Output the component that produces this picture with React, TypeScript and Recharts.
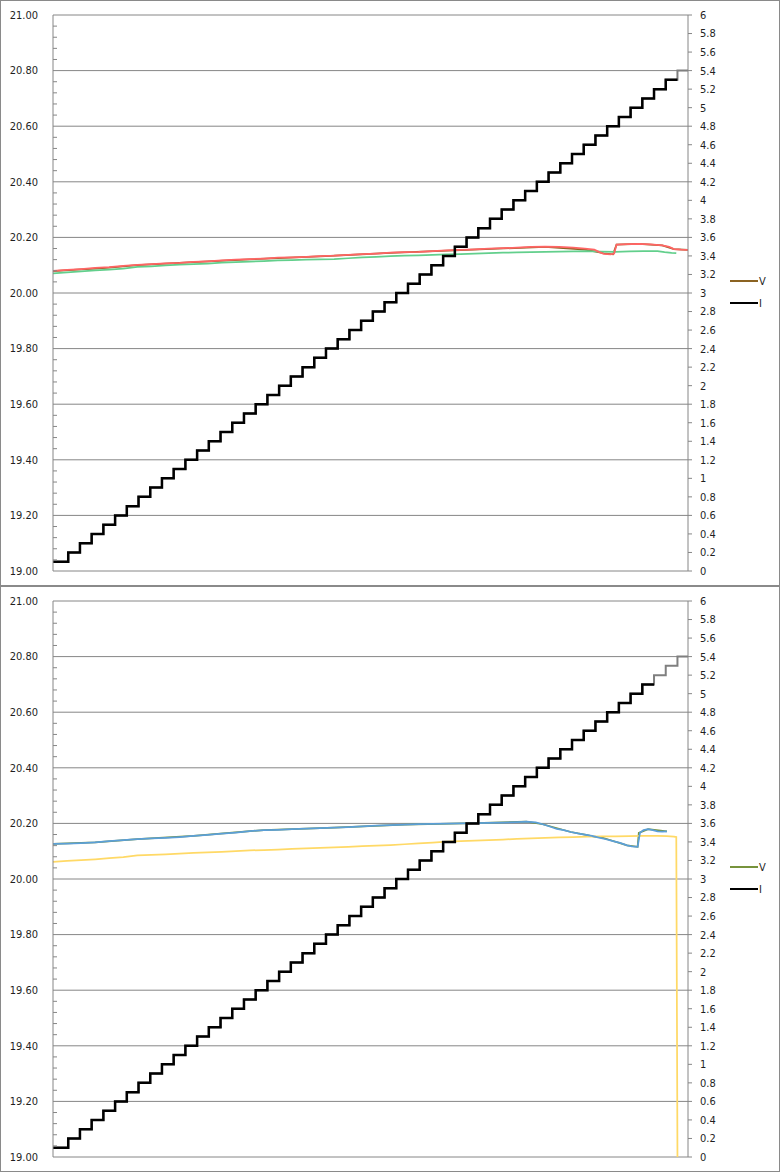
import React from "react";
import { LineChart, Line, XAxis, YAxis, CartesianGrid } from "recharts";

// Left axis (voltage) and right axis (current) ticks
const leftTicks = [19, 19.2, 19.4, 19.6, 19.8, 20, 20.2, 20.4, 20.6, 20.8, 21];
const leftMinorTicks = leftTicks
  .slice(0, -1)
  .flatMap((t) => [0.04, 0.08, 0.12, 0.16].map((d) => Math.round((t + d) * 100) / 100));
const rightTicks = [
  0, 0.2, 0.4, 0.6, 0.8, 1, 1.2, 1.4, 1.6, 1.8, 2, 2.2, 2.4, 2.6, 2.8, 3, 3.2, 3.4, 3.6, 3.8, 4,
  4.2, 4.4, 4.6, 4.8, 5, 5.2, 5.4, 5.6, 5.8, 6,
];

// sample index range of the x axis
const SAMPLE_END = 542;

// current staircase: level and the sample where it starts
const iLevels = [
  0.1, 0.2, 0.3, 0.4, 0.5, 0.6, 0.7, 0.8, 0.9, 1.0, 1.1, 1.2, 1.3, 1.4, 1.5, 1.6, 1.7, 1.8, 1.9,
  2.0, 2.1, 2.2, 2.3, 2.4, 2.5, 2.6, 2.7, 2.8, 2.9, 3.0, 3.1, 3.2, 3.3, 3.4, 3.5, 3.6, 3.7, 3.8,
  3.9, 4.0, 4.1, 4.2, 4.3, 4.4, 4.5, 4.6, 4.7, 4.8, 4.9, 5.0, 5.1, 5.2, 5.3, 5.4,
];
const iStepStart = [
  0, 13, 23, 33, 43, 53, 63, 73, 83, 93, 103, 113, 123, 133, 143, 153, 163, 173, 183, 193, 203,
  213, 223, 233, 243, 253, 263, 273, 283, 293, 303, 313, 323, 333, 343, 353, 363, 373, 383, 393,
  403, 413, 423, 433, 443, 453, 463, 473, 483, 493, 503, 513, 523, 533,
];
const topBlackEnd = 533;
const bottomBlackEnd = 513;

// top chart voltage traces [sample, volts]
const topRed: [number, number][] = [
  [0, 20.08], [12, 20.083], [24, 20.086], [36, 20.09], [48, 20.093], [60, 20.098], [72, 20.101],
  [84, 20.104], [96, 20.107], [108, 20.108], [120, 20.112], [132, 20.114], [144, 20.117],
  [156, 20.12], [168, 20.122], [180, 20.124], [192, 20.127], [204, 20.128], [216, 20.13],
  [228, 20.133], [240, 20.134], [252, 20.137], [264, 20.14], [276, 20.142], [288, 20.145],
  [300, 20.147], [312, 20.148], [324, 20.151], [336, 20.153], [348, 20.155], [360, 20.157],
  [372, 20.16], [384, 20.161], [396, 20.163], [408, 20.166], [420, 20.167], [432, 20.166],
  [444, 20.163], [454, 20.16], [462, 20.156], [466, 20.148], [470, 20.141], [476, 20.139],
  [479, 20.142], [481, 20.174], [490, 20.176], [500, 20.177], [510, 20.175], [520, 20.171],
  [526, 20.166], [530, 20.158], [536, 20.156], [542, 20.155],
];
const topGreen: [number, number][] = [
  [0, 20.071], [12, 20.074], [24, 20.078], [36, 20.081], [48, 20.084], [60, 20.088], [72, 20.094],
  [84, 20.096], [96, 20.099], [108, 20.102], [120, 20.104], [132, 20.106], [144, 20.109],
  [156, 20.111], [168, 20.113], [180, 20.115], [192, 20.117], [204, 20.118], [216, 20.12],
  [228, 20.121], [240, 20.122], [252, 20.125], [264, 20.128], [276, 20.13], [288, 20.133],
  [300, 20.134], [312, 20.135], [324, 20.137], [336, 20.139], [348, 20.14], [360, 20.142],
  [372, 20.143], [384, 20.145], [396, 20.146], [408, 20.147], [420, 20.148], [432, 20.149],
  [444, 20.15], [456, 20.151], [468, 20.149], [480, 20.148], [492, 20.15], [504, 20.151],
  [516, 20.151], [522, 20.147], [528, 20.144], [532, 20.143],
];
const topV: [number, number][] = [
  [0, 20.079], [24, 20.085], [36, 20.088], [48, 20.091], [72, 20.1], [120, 20.111], [168, 20.121],
  [228, 20.132], [288, 20.144], [348, 20.154], [420, 20.166], [454, 20.156], [462, 20.15],
  [470, 20.143], [478, 20.139], [481, 20.174], [500, 20.177], [520, 20.171], [530, 20.158],
  [542, 20.155],
];

// bottom chart voltage traces [sample, volts]
const bottomBlue: [number, number][] = [
  [0, 20.126], [12, 20.127], [24, 20.129], [36, 20.132], [48, 20.136], [60, 20.14], [72, 20.143],
  [84, 20.146], [96, 20.148], [108, 20.151], [120, 20.155], [132, 20.159], [144, 20.163],
  [156, 20.167], [168, 20.172], [180, 20.176], [192, 20.177], [204, 20.179], [216, 20.181],
  [228, 20.183], [240, 20.185], [252, 20.187], [264, 20.189], [276, 20.192], [288, 20.194],
  [300, 20.196], [312, 20.197], [324, 20.198], [336, 20.199], [348, 20.2], [360, 20.201],
  [372, 20.202], [384, 20.203], [396, 20.205], [404, 20.206], [412, 20.204], [418, 20.197],
  [424, 20.189], [430, 20.18], [436, 20.176], [442, 20.169], [448, 20.164], [454, 20.16],
  [460, 20.155], [466, 20.149], [472, 20.143], [478, 20.136], [484, 20.13], [490, 20.121],
  [494, 20.117], [499, 20.116], [501, 20.166], [504, 20.176], [508, 20.179], [512, 20.176],
  [516, 20.171], [520, 20.17], [524, 20.171],
];
const bottomYellow: [number, number][] = [
  [0, 20.062], [12, 20.065], [24, 20.068], [36, 20.071], [48, 20.075], [60, 20.079], [72, 20.085],
  [84, 20.087], [96, 20.089], [108, 20.091], [120, 20.094], [132, 20.096], [144, 20.098],
  [156, 20.1], [168, 20.103], [180, 20.104], [192, 20.106], [204, 20.108], [216, 20.11],
  [228, 20.112], [240, 20.114], [252, 20.116], [264, 20.118], [276, 20.12], [288, 20.122],
  [300, 20.125], [312, 20.128], [324, 20.131], [336, 20.134], [348, 20.136], [360, 20.138],
  [372, 20.14], [384, 20.142], [396, 20.144], [408, 20.146], [420, 20.148], [432, 20.15],
  [444, 20.151], [456, 20.152], [468, 20.153], [480, 20.153], [492, 20.154], [504, 20.155],
  [516, 20.155], [524, 20.154], [530, 20.152], [532, 20.151], [533, 19.0],
];
const bottomV: [number, number][] = [
  [0, 20.126], [36, 20.132], [72, 20.143], [120, 20.155], [180, 20.176], [240, 20.185],
  [300, 20.196], [360, 20.201], [404, 20.206], [418, 20.197], [442, 20.169], [456, 20.158],
  [462, 20.152], [468, 20.15], [474, 20.142], [490, 20.121], [499, 20.116], [500, 20.166],
  [508, 20.179], [524, 20.171],
];

const GRID = "#868686";
const FONT = "'DejaVu Sans Condensed', 'DejaVu Sans', sans-serif";

const toRows = (pairs: [number, number][]) => pairs.map(([x, v]) => ({ x, v }));

const stepRows = (end: number) => {
  const rows = iStepStart
    .map((x, k) => ({ x, i: iLevels[k] }))
    .filter((r) => r.x < end);
  rows.push({ x: end, i: rows[rows.length - 1].i });
  return rows;
};

const LeftTick = (props: any) => {
  const { x, y, payload } = props;
  const v = payload.value;
  const major = leftTicks.some((t) => Math.abs(t - v) < 1e-6);
  if (major) {
    return (
      <text x={x - 15} y={y} dy="0.35em" textAnchor="end" fontSize={11} fontFamily={FONT} fill="#1f1f1f">
        {v.toFixed(2)}
      </text>
    );
  }
  return <line x1={x} x2={x + 4} y1={y} y2={y} stroke={GRID} strokeWidth={1} />;
};

interface PanelProps {
  top: number;
  vColor: string;
  vData: [number, number][];
  traces: { data: [number, number][]; color: string }[];
  blackEnd: number;
}

function Panel({ top, vColor, vData, traces, blackEnd }: PanelProps) {
  return (
    <div
      style={{
        position: "absolute",
        left: 0,
        top,
        width: 780,
        height: 586,
        border: "1px solid #8a8a8a",
        boxSizing: "border-box",
        background: "#fff",
      }}
    >
      <LineChart width={778} height={584} margin={{ top: 14, right: 0, bottom: 14, left: 0 }}>
        <CartesianGrid yAxisId="v" horizontalValues={leftTicks} vertical={false} stroke={GRID} />
        <XAxis type="number" dataKey="x" domain={[0, SAMPLE_END]} hide allowDataOverflow />
        <YAxis
          yAxisId="v"
          orientation="left"
          width={52}
          domain={[19, 21]}
          ticks={[...leftTicks, ...leftMinorTicks].sort((a, b) => a - b)}
          interval={0}
          tickSize={0}
          tickMargin={0}
          tickLine={false}
          axisLine={{ stroke: GRID }}
          tick={(p: any) => <LeftTick {...p} />}
          allowDataOverflow
        />
        <YAxis
          yAxisId="i"
          orientation="right"
          width={91}
          domain={[0, 6]}
          ticks={rightTicks}
          interval={0}
          tickSize={4}
          tickMargin={8}
          axisLine={{ stroke: GRID }}
          tickLine={{ stroke: GRID }}
          tick={{ fontSize: 11, fontFamily: FONT, fill: "#1f1f1f" }}
          allowDataOverflow
        />
        <Line
          yAxisId="v"
          data={toRows(vData)}
          dataKey="v"
          type="linear"
          stroke={vColor}
          strokeWidth={1.75}
          dot={false}
          isAnimationActive={false}
        />
        {traces.map((t, k) => (
          <Line
            key={k}
            yAxisId="v"
            data={toRows(t.data)}
            dataKey="v"
            type="linear"
            stroke={t.color}
            strokeWidth={1.75}
            dot={false}
            isAnimationActive={false}
          />
        ))}
        <Line
          yAxisId="i"
          data={stepRows(SAMPLE_END)}
          dataKey="i"
          type="stepAfter"
          stroke="#7f7f7f"
          strokeWidth={2}
          dot={false}
          isAnimationActive={false}
        />
        <Line
          yAxisId="i"
          data={stepRows(blackEnd)}
          dataKey="i"
          type="stepAfter"
          stroke="#000"
          strokeWidth={2.5}
          dot={false}
          isAnimationActive={false}
        />
      </LineChart>
      {[
        { label: "V", color: vColor, y: 280 },
        { label: "I", color: "#000", y: 302 },
      ].map((item) => (
        <div key={item.label} style={{ position: "absolute", left: 729, top: item.y - 8, height: 16, display: "flex", alignItems: "center" }}>
          <div style={{ width: 28, height: 2, background: item.color }} />
          <span style={{ fontSize: 11, fontFamily: FONT, color: "#1f1f1f", marginLeft: 1 }}>{item.label}</span>
        </div>
      ))}
    </div>
  );
}

export default function App() {
  return (
    <div style={{ position: "absolute", left: 0, top: 0, width: 780, height: 1172, background: "#fff" }}>
      <Panel
        top={0}
        vColor="#8b6322"
        vData={topV}
        traces={[
          { data: topGreen, color: "#62cf8c" },
          { data: topRed, color: "#ff6565" },
        ]}
        blackEnd={topBlackEnd}
      />
      <Panel
        top={586}
        vColor="#77933c"
        vData={bottomV}
        traces={[
          { data: bottomYellow, color: "#ffd966" },
          { data: bottomBlue, color: "#5b9fd8" },
        ]}
        blackEnd={bottomBlackEnd}
      />
    </div>
  );
}
